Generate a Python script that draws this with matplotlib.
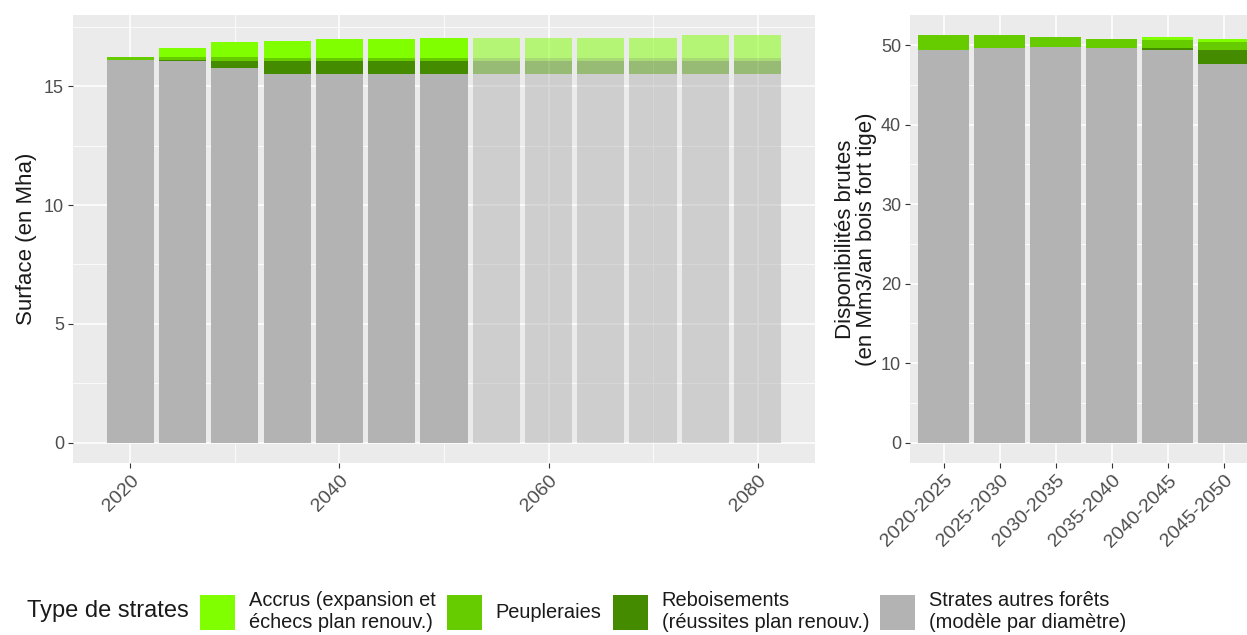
import numpy as np
import matplotlib.pyplot as plt
from matplotlib.patches import Patch
from matplotlib.ticker import MultipleLocator

plt.rcParams['font.family'] = ['Liberation Sans', 'DejaVu Sans']

# surface par strate (Mha), projections
years = [2020, 2025, 2030, 2035, 2040, 2045, 2050, 2055, 2060, 2065, 2070, 2075, 2080]
surf_autres = [16.10, 16.05, 15.77, 15.50, 15.50, 15.50, 15.50, 15.50, 15.50, 15.50, 15.50, 15.50, 15.50]
surf_rebois = [0.00, 0.07, 0.28, 0.55, 0.55, 0.55, 0.55, 0.55, 0.55, 0.55, 0.55, 0.55, 0.55]
surf_peupl = [0.12, 0.13, 0.20, 0.12, 0.12, 0.12, 0.12, 0.12, 0.12, 0.12, 0.12, 0.12, 0.12]
surf_accrus = [0.03, 0.34, 0.61, 0.74, 0.81, 0.81, 0.88, 0.88, 0.88, 0.88, 0.88, 0.97, 0.97]

# disponibilites brutes (Mm3/an)
periodes = ["2020-2025", "2025-2030", "2030-2035", "2035-2040", "2040-2045", "2045-2050"]
dispo_autres = [49.45, 49.62, 49.83, 49.66, 49.45, 47.69]
dispo_rebois = [0.00, 0.00, 0.00, 0.00, 0.17, 1.76]
dispo_peupl = [1.81, 1.64, 1.22, 1.08, 1.05, 1.01]
dispo_accrus = [0.00, 0.00, 0.00, 0.10, 0.42, 0.38]

labels = ["Accrus (expansion et\néchecs plan renouv.)", "Peupleraies",
          "Reboisements\n(réussites plan renouv.)", "Strates autres forêts\n(modèle par diamètre)"]
colors = ["#80FF00", "#66CC00", "#458B00", "#B3B3B3"]

W, H = 1247, 635
fig = plt.figure(figsize=(W / 100, H / 100), dpi=100)

def style(ax):
    ax.set_facecolor("#EBEBEB")
    for s in ax.spines.values():
        s.set_visible(False)
    ax.grid(True, which="major", color="white", lw=1.1)
    ax.grid(True, which="minor", color="white", lw=0.55)
    ax.set_axisbelow(True)
    ax.tick_params(which="major", length=3.5, color="#333333", labelsize=13,
                   labelcolor="#4D4D4D", pad=3)
    ax.tick_params(which="minor", length=0)

def stack(ax, x, layers, width, alpha):
    bottom = np.zeros(len(x))
    for vals, c in layers:
        vals = np.array(vals)
        ax.bar(x, vals, width, bottom=bottom, color=c, alpha=alpha, linewidth=0)
        bottom += vals

# --- left panel
ax1 = fig.add_axes([73 / W, 1 - 463 / H, (815 - 73) / W, (463 - 15) / H])
style(ax1)
yrs = np.array(years)
layers = [(surf_autres, colors[3]), (surf_rebois, colors[2]), (surf_peupl, colors[1]), (surf_accrus, colors[0])]
past = yrs <= 2050
stack(ax1, yrs[past], [(np.array(v)[past], c) for v, c in layers], 4.5, 1.0)
stack(ax1, yrs[~past], [(np.array(v)[~past], c) for v, c in layers], 4.5, 0.5)
ax1.set_xlim(2014.5, 2085.5)
ax1.set_ylim(-0.86, 18.0)
ax1.set_xticks([2020, 2040, 2060, 2080])
ax1.xaxis.set_minor_locator(MultipleLocator(10))
ax1.yaxis.set_major_locator(MultipleLocator(5))
ax1.yaxis.set_minor_locator(MultipleLocator(2.5))
for t in ax1.get_xticklabels():
    t.set_rotation(45)
    t.set_ha("right")
    t.set_va("top")
    t.set_rotation_mode("anchor")
    t.set_fontsize(14)
ax1.set_ylabel("Surface (en Mha)", fontsize=16, color="#1A1A1A", labelpad=5)

# --- right panel (cut at the figure edge)
n_units = 12.2
ax2 = fig.add_axes([910 / W, 1 - 463 / H, 56 * n_units / W, (463 - 15) / H])
style(ax2)
xp = np.arange(len(periodes))
stack(ax2, xp, [(dispo_autres, colors[3]), (dispo_rebois, colors[2]),
                (dispo_peupl, colors[1]), (dispo_accrus, colors[0])], 0.9, 1.0)
ax2.set_xlim(-0.6, n_units - 0.6)
ax2.set_ylim(-2.56, 53.8)
ax2.set_xticks(xp)
ax2.set_xticklabels(periodes, rotation=45, ha="right", va="top", rotation_mode="anchor",
                    fontsize=14)
ax2.yaxis.set_major_locator(MultipleLocator(10))
ax2.yaxis.set_minor_locator(MultipleLocator(5))
ax2.set_ylabel("Disponibilités brutes\n(en Mm3/an bois fort tige)", fontsize=16,
               color="#1A1A1A", labelpad=3, linespacing=0.95)

# --- legend
fig.text(27 / W, 1 - 611 / H, "Type de strates", fontsize=17, va="center", ha="left",
         color="#1A1A1A")
handles = [Patch(facecolor=c, linewidth=0) for c in colors]
fig.legend(handles, labels, loc="center left", bbox_to_anchor=(186 / W, 1 - 611 / H),
           ncol=4, frameon=False, fontsize=14.4, handlelength=1.75, handleheight=2.35,
           handletextpad=0.7, columnspacing=0.55, labelspacing=0.2, borderpad=0.2,
           labelcolor="#1A1A1A")

fig.savefig("out.png", dpi=100)
